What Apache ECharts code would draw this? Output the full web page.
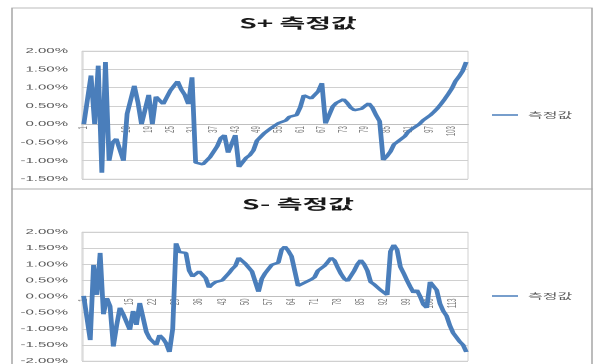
<!DOCTYPE html>
<html><head><meta charset="utf-8">
<script src="https://cdn.jsdelivr.net/npm/echarts@6/dist/echarts.min.js"></script>
<style>
html,body{margin:0;padding:0;background:#fff;overflow:hidden;}
#wrap{width:595px;height:364px;overflow:hidden;position:relative;background:#fff;}
#chart{width:297.5px;height:364px;transform:scaleX(2);transform-origin:0 0;}
</style></head><body><div id="wrap"><div id="chart"></div></div>
<script>
// S+ measured values (%)
const splusValues = [0, 0, 1.33, 0, 1.6, -1.33, 1.7, -1.0, -0.5, -0.4,
  -0.38, -1.0, 0.28, 0.33, 1.05, 0.6, 0.0, 0.4, 0.8, 0.0,
  0.75, 0.7, 0.55, 0.55, 0.92, 0.95, 1.17, 0.95, 0.8, 0.55,
  1.28, -1.05, -1.1, -1.1, -1.05, -0.9, -0.75, -0.6, -0.38, -0.3,
  -0.78, -0.78, -0.3, -1.17, -1.15, -0.92, -0.85, -0.72, -0.45, -0.35,
  -0.25, -0.2, -0.1, -0.05, 0.03, 0.08, 0.1, 0.2, 0.15, 0.25,
  0.46, 0.79, 0.75, 0.7, 0.65, 0.9, 1.12, 0.02, 0.05, 0.48,
  0.58, 0.6, 0.68, 0.58, 0.45, 0.38, 0.33, 0.42, 0.5, 0.57,
  0.45, 0.25, 0.08, -0.98, -0.88, -0.75, -0.55, -0.48, -0.43, -0.33,
  -0.2, -0.13, -0.08, 0.0, 0.1, 0.15, 0.24, 0.33, 0.43, 0.55,
  0.68, 0.82, 0.97, 1.17, 1.3, 1.45, 1.7];
// S- measured values (%)
const sminusValues = [0.02, 0, -1.35, 0.98, 0.05, 1.35, -0.55, -0.05, -0.3, -1.55,
  -0.9, -0.35, -0.55, -0.6, -1.03, -0.45, -0.88, -0.2, -0.2, -1.1,
  -1.3, -1.35, -1.5, -1.2, -1.3, -1.45, -1.72, -1.0, 1.65, 1.38,
  1.35, 1.35, 0.8, 0.62, 0.68, 0.78, 0.68, 0.57, 0.28, 0.38,
  0.45, 0.48, 0.5, 0.52, 0.72, 0.85, 0.95, 1.2, 1.15, 1.02,
  0.9, 0.78, 0.72, 0.15, 0.55, 0.72, 0.85, 0.98, 1.03, 1.05,
  1.45, 1.55, 1.42, 1.25, 1.2, 0.33, 0.37, 0.43, 0.48, 0.53,
  0.6, 0.8, 0.85, 0.95, 1.07, 1.2, 1.12, 0.9, 0.7, 0.55,
  0.48, 0.52, 0.8, 1.0, 1.13, 1.0, 0.8, 0.45, 0.38, 0.42,
  0.2, 0.15, 0.05, 1.4, 1.6, 1.45, 0.92, 0.72, 0.5, 0.3,
  0.12, 0.2, 0.0, -0.25, -0.35, 0.45, 0.45, 0.2, -0.22, -0.45,
  -0.6, -0.9, -1.13, -1.13, -1.4, -1.5, -1.72];
const categoriesTop = splusValues.map((_, i) => String(i + 1));
const categoriesBottom = sminusValues.map((_, i) => String(i + 1));
const titles = ['S+ 측정값', 'S- 측정값'];
const seriesName = '측정값';
const yTicksTop = { min: -1.5, max: 2, interval: 0.5 };
const yTicksBottom = { min: -2, max: 2, interval: 0.5 };

const lineColor = '#4a7ebb';
const labelFont = '"Liberation Sans", Arial, sans-serif';
const krFont = '"Noto Sans CJK KR", sans-serif';

const grids = [
  { left: 41, top: 51, width: 193, height: 128 },
  { left: 41, top: 232, width: 193, height: 129 }
];

// place the category axis at the value 0 of the value axis
function zeroOffset(g, t) {
  return -g.height * (0 - t.min) / (t.max - t.min);
}

function xAxisCfg(idx, data, interval, t) {
  return {
    type: 'category', gridIndex: idx, data: data, boundaryGap: true,
    position: 'bottom', offset: zeroOffset(grids[idx], t),
    axisLine: { onZero: false, lineStyle: { color: '#bfbfbf', width: 1 } },
    axisTick: { show: false },
    axisLabel: { interval: interval, rotate: 90, fontSize: 6, color: '#7f7f7f', margin: 2, fontFamily: labelFont, hideOverlap: false },
    splitLine: { show: false }
  };
}
function yAxisCfg(idx, t) {
  return {
    type: 'value', gridIndex: idx, min: t.min, max: t.max, interval: t.interval,
    axisLabel: { formatter: v => v.toFixed(2) + '%', fontSize: 7.5, color: '#595959', margin: 7, fontFamily: labelFont },
    axisLine: { show: true, lineStyle: { color: '#d0d0d0', width: 0.5 } },
    axisTick: { show: false },
    splitLine: { lineStyle: { color: '#d0d0d0', width: 1 } }
  };
}

const chart = echarts.init(document.getElementById('chart'), null, { devicePixelRatio: 2 });
chart.setOption({
  animation: false,
  backgroundColor: '#fff',
  title: [
    { text: titles[0], left: 'center', top: 16, padding: 0, textStyle: { fontSize: 14, fontWeight: 'bold', color: '#1a1a1a', fontFamily: krFont } },
    { text: titles[1], left: 'center', top: 197, padding: 0, textStyle: { fontSize: 14, fontWeight: 'bold', color: '#1a1a1a', fontFamily: krFont } }
  ],
  legend: [
    { data: [seriesName], left: 246, top: 111, padding: 0, icon: 'rect', itemWidth: 13, itemHeight: 1.5,
      textStyle: { fontSize: 8, color: '#595959', fontFamily: krFont } },
    { data: [seriesName], left: 246, top: 292, padding: 0, icon: 'rect', itemWidth: 13, itemHeight: 1.5,
      textStyle: { fontSize: 8, color: '#595959', fontFamily: krFont } }
  ],
  graphic: [
    { type: 'rect', silent: true, z: 100, shape: { x: 6, y: 8, width: 290, height: 181 }, style: { fill: 'none', stroke: '#a6a6a6', lineWidth: 0.75 } },
    { type: 'rect', silent: true, z: 100, shape: { x: 6, y: 189, width: 290, height: 200 }, style: { fill: 'none', stroke: '#a6a6a6', lineWidth: 0.75 } }
  ],
  grid: grids.map(g => Object.assign({}, g, { show: true, borderColor: '#d0d0d0', borderWidth: 0.5, containLabel: false, outerBoundsMode: 'none' })),
  xAxis: [xAxisCfg(0, categoriesTop, 5, yTicksTop), xAxisCfg(1, categoriesBottom, 6, yTicksBottom)],
  yAxis: [yAxisCfg(0, yTicksTop), yAxisCfg(1, yTicksBottom)],
  series: [
    { name: seriesName, type: 'line', xAxisIndex: 0, yAxisIndex: 0, data: splusValues, showSymbol: false, symbol: 'none',
      lineStyle: { color: lineColor, width: 2.4 }, itemStyle: { color: lineColor } },
    { name: seriesName, type: 'line', xAxisIndex: 1, yAxisIndex: 1, data: sminusValues, showSymbol: false, symbol: 'none',
      lineStyle: { color: lineColor, width: 2.4 }, itemStyle: { color: lineColor } }
  ]
});
</script></body></html>
